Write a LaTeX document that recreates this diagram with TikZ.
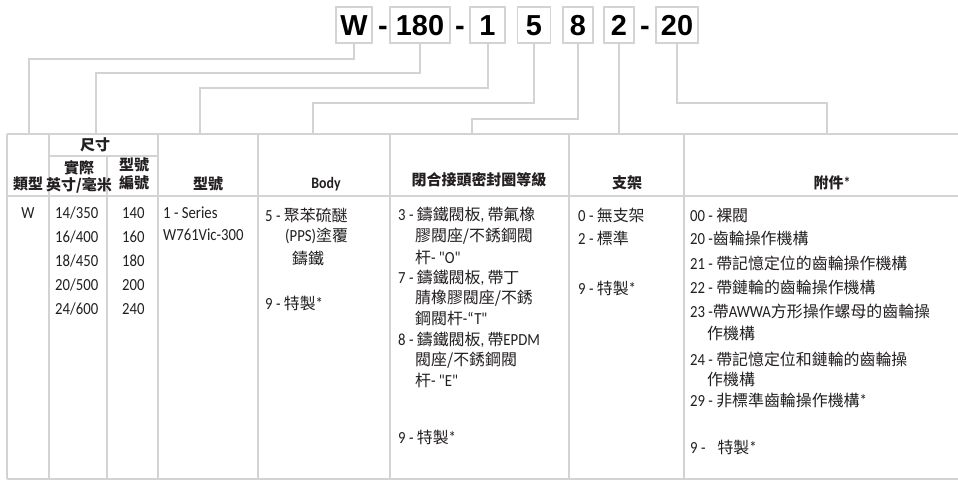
\documentclass[tikz,border=0pt]{standalone}
\usepackage{fontspec}
\setmainfont{Carlito}
\newfontfamily\latinfont{Carlito}[FakeStretch=0.87]
\newfontfamily\zhfont{Noto Sans CJK TC}[Scale=0.94]
\newfontfamily\codefont{Liberation Sans}
\newcommand\zh[1]{{\zhfont #1}}
\definecolor{lineg}{HTML}{D3D3D3}
\definecolor{txt}{HTML}{231F20}
\begin{document}
\begin{tikzpicture}[x=1bp,y=-1bp,
  grid/.style={draw=lineg,line width=2.2bp},
  conn/.style={draw=lineg,line width=2bp},
  codebox/.style={draw=lineg,line width=1.8bp,minimum height=36bp,inner sep=0pt,
    text height=20.5bp,text depth=0pt,
    font=\codefont\bfseries\fontsize{29}{29}\selectfont},
  dashtxt/.style={font=\codefont\bfseries\fontsize{29}{29}\selectfont,inner sep=0pt,anchor=base},
  hd/.style={font=\latinfont\bfseries\fontsize{16}{18}\selectfont,inner sep=0pt,text=txt},
  bd/.style={font=\latinfont\fontsize{17}{20}\selectfont,inner sep=0pt,anchor=west,text=txt}]
\useasboundingbox[fill=white] (0,0) rectangle (958,480);

% code boxes
\node[codebox,minimum width=36bp] (bW) at (354,25) {W};
\node[dashtxt] (d1) at (383,35.25) {-};
\node[codebox,minimum width=60bp] (b180) at (420,25) {180};
\node[dashtxt] (d2) at (460,35.25) {-};
\node[codebox,minimum width=35bp] (b1) at (487.5,25) {1};
\node[codebox,minimum width=33bp] (b5) at (534,25) {5};
\node[codebox,minimum width=30bp] (b8) at (578,25) {8};
\node[codebox,minimum width=30bp] (b2) at (619,25) {2};
\node[dashtxt] (d3) at (645,35.25) {-};
\node[codebox,minimum width=42bp] (b20) at (677,25) {20};

% table grid
\draw[grid] (7,134) -- (958,134);
\draw[grid] (7,196) -- (958,196);
\draw[grid] (7,479) -- (958,479);
\draw[grid] (49,156) -- (158,156);
\foreach \x in {7,49,158,258,390,569,684} \draw[grid] (\x,134) -- (\x,479);
\draw[grid] (107,156) -- (107,479);

% connectors
\coordinate (kW) at (29,59);   \coordinate (tW) at (29,134);
\coordinate (k180) at (96,73); \coordinate (t180) at (96,134);
\coordinate (k1) at (200,88);  \coordinate (t1) at (200,134);
\coordinate (k5) at (313,103); \coordinate (t5) at (313,134);
\coordinate (k8) at (472,119); \coordinate (t8) at (472,134);
\coordinate (t2) at (619,134);
\coordinate (k20) at (827,103); \coordinate (t20) at (827,134);
\draw[conn] (bW.south) |- (kW) -- (tW);
\draw[conn] (b180.south) |- (k180) -- (t180);
\draw[conn] (b1.south) |- (k1) -- (t1);
\draw[conn] (b5.south) |- (k5) -- (t5);
\draw[conn] (b8.south) |- (k8) -- (t8);
\draw[conn] (b2.south) -- (t2);
\draw[conn] (b20.south) |- (k20) -- (t20);

% headers
\node[hd] (h1) at (28,184) {\zh{類型}};
\node[hd] (h2) at (95,145) {\zh{尺寸}};
\node[hd] (h3a) at (79,168) {\zh{實際}};
\node[hd] (h3b) at (79,185) {\zh{英寸/毫米}};
\node[hd] (h4a) at (134,165) {\zh{型號}};
\node[hd] (h4b) at (134,183) {\zh{編號}};
\node[hd] (h5) at (208,184) {\zh{型號}};
\node[hd] (h6) at (326,184) {Body};
\node[hd] (h7) at (479,180) {\zh{閉合接頭密封圈等級}};
\node[hd] (h8) at (627,183) {\zh{支架}};
\node[hd] (h9) at (832,183) {\zh{附件}*};

% body: type
\node[bd,anchor=center] (w0) at (28,213) {W};
% size
\node[bd] (s1) at (55,213) {14/350};
\node[bd] (s2) at (55,237) {16/400};
\node[bd] (s3) at (55,261) {18/450};
\node[bd] (s4) at (55,285) {20/500};
\node[bd] (s5) at (55,309) {24/600};
\node[bd] (n1) at (122,213) {140};
\node[bd] (n2) at (122,237) {160};
\node[bd] (n3) at (122,261) {180};
\node[bd] (n4) at (122,285) {200};
\node[bd] (n5) at (122,309) {240};
% model
\node[bd] (m1) at (163,213) {1 - Series};
\node[bd] (m2) at (163,235) {W761Vic-300};
% body
\node[bd] (y1) at (265,215) {5 - \zh{聚苯硫醚}};
\node[bd] (y2) at (285,236) {(PPS)\zh{塗覆}};
\node[bd] (y3) at (292,258) {\zh{鑄鐵}};
\node[bd] (y4) at (265,303) {9 - \zh{特製}*};
% seat
\node[bd] (z1) at (398,215) {3 - \zh{鑄鐵閥板}, \zh{帶氟橡}};
\node[bd] (z2) at (415,236) {\zh{膠閥座/不銹鋼閥}};
\node[bd] (z3) at (415,257) {\zh{杆}- "O"};
\node[bd] (z4) at (398,278) {7 - \zh{鑄鐵閥板}, \zh{帶丁}};
\node[bd] (z5) at (415,298) {\zh{腈橡膠閥座/不銹}};
\node[bd] (z6) at (415,318) {\zh{鋼閥杆}-“T"};
\node[bd] (z7) at (398,340) {8 - \zh{鑄鐵閥板}, \zh{帶}EPDM};
\node[bd] (z8) at (415,360) {\zh{閥座/不銹鋼閥}};
\node[bd] (z9) at (415,380) {\zh{杆}- "E"};
\node[bd] (z10) at (398,437) {9 - \zh{特製}*};
% bracket
\node[bd] (j1) at (578,215) {0 - \zh{無支架}};
\node[bd] (j2) at (578,238) {2 - \zh{標準}};
\node[bd] (j3) at (578,288) {9 - \zh{特製}*};
% accessories
\node[bd] (a1) at (690,215) {00 - \zh{裸閥}};
\node[bd] (a2) at (690,238) {20 -\zh{齒輪操作機構}};
\node[bd] (a3) at (690,263) {21 - \zh{帶記憶定位的齒輪操作機構}};
\node[bd] (a4) at (690,287) {22 - \zh{帶鏈輪的齒輪操作機構}};
\node[bd] (a5) at (690,311) {23 -\zh{帶}AWWA\zh{方形操作螺母的齒輪操}};
\node[bd] (a6) at (707,333) {\zh{作機構}};
\node[bd] (a7) at (690,359) {24 - \zh{帶記憶定位和鏈輪的齒輪操}};
\node[bd] (a8) at (707,379) {\zh{作機構}};
\node[bd] (a9) at (690,400) {29 - \zh{非標準齒輪操作機構}*};
\node[bd] (a10) at (690,447) {9 -\hspace{12bp}\zh{特製}*};
\end{tikzpicture}
\end{document}
